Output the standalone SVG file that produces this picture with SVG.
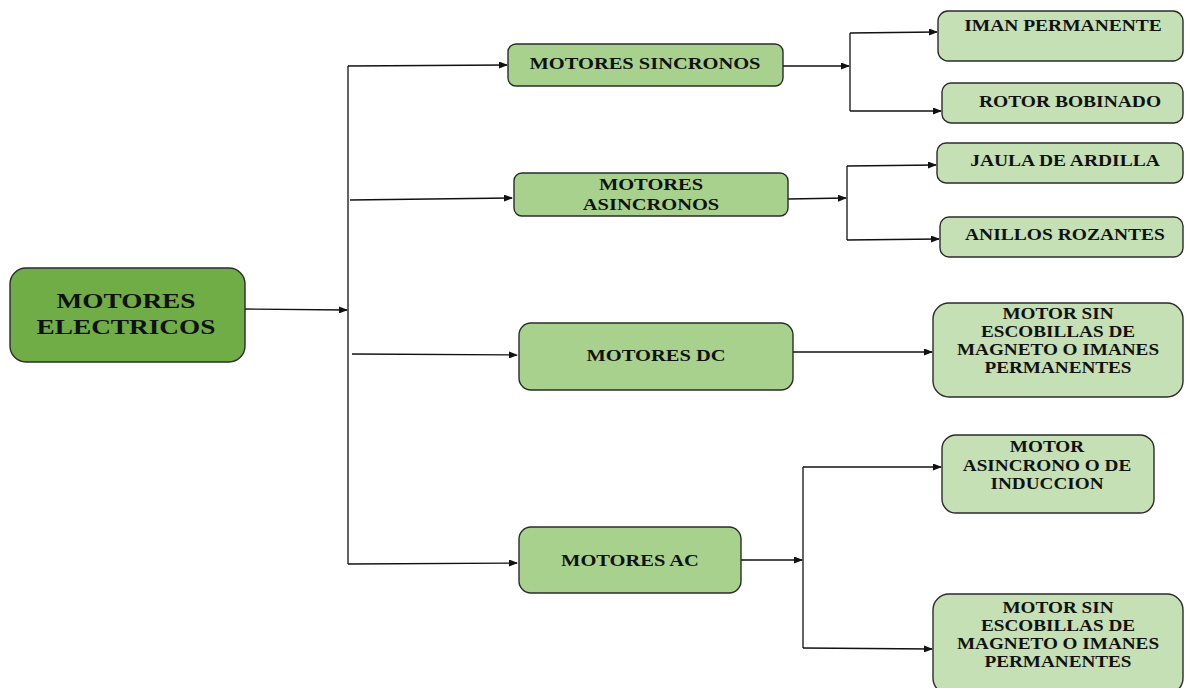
<svg xmlns="http://www.w3.org/2000/svg" width="1185" height="688" viewBox="0 0 1185 688">
<style>
.box{stroke:#2b2b2b;stroke-width:1.4}
.l1{fill:#70ad47}
.l2{fill:#a9d18e}
.l3{fill:#c5e0b4}
.t{font-family:"Liberation Serif","Times New Roman",serif;font-weight:bold;font-size:16px;fill:#111;text-anchor:middle}
.tr{font-size:21px}
.c{fill:none;stroke:#111;stroke-width:1.3}
</style>
<defs>
<marker id="ah" markerWidth="9" markerHeight="7" refX="8" refY="3.5" orient="auto" markerUnits="userSpaceOnUse">
<path d="M0,0 L9,3.5 L0,7 z" fill="#111"/>
</marker>
</defs>
<g id="connectors">
<path class="c" d="M245,309 L347,310" marker-end="url(#ah)"/>
<path class="c" d="M348,66 L348,564"/>
<path class="c" d="M348,66 L507,65" marker-end="url(#ah)"/>
<path class="c" d="M350,200 L512,198" marker-end="url(#ah)"/>
<path class="c" d="M352,354 L517,355" marker-end="url(#ah)"/>
<path class="c" d="M348,564 L517,563" marker-end="url(#ah)"/>
<path class="c" d="M783,66 L849,66" marker-end="url(#ah)"/>
<path class="c" d="M850,33 L850,111"/>
<path class="c" d="M850,33 L937,32" marker-end="url(#ah)"/>
<path class="c" d="M850,111 L941,111" marker-end="url(#ah)"/>
<path class="c" d="M788,199 L846,198" marker-end="url(#ah)"/>
<path class="c" d="M847,166 L847,240"/>
<path class="c" d="M847,166 L936,165" marker-end="url(#ah)"/>
<path class="c" d="M847,240 L939,239" marker-end="url(#ah)"/>
<path class="c" d="M793,352 L932,352" marker-end="url(#ah)"/>
<path class="c" d="M741,560 L802,560" marker-end="url(#ah)"/>
<path class="c" d="M803,467 L803,648"/>
<path class="c" d="M803,467 L941,467" marker-end="url(#ah)"/>
<path class="c" d="M803,648 L932,649" marker-end="url(#ah)"/>
</g>
<g id="n-root">
<rect class="box l1" x="10" y="268" width="235" height="94" rx="16"/>
<text class="t tr" transform="translate(126 308) scale(1.3 1)">MOTORES</text>
<text class="t tr" transform="translate(126 334) scale(1.3 1)">ELECTRICOS</text>
</g>
<g id="n-sincronos">
<rect class="box l2" x="508" y="44" width="275" height="42" rx="8"/>
<text class="t" transform="translate(645 69) scale(1.28 1)">MOTORES SINCRONOS</text>
</g>
<g id="n-asincronos">
<rect class="box l2" x="514" y="173" width="274" height="43" rx="8"/>
<text class="t" transform="translate(651 190) scale(1.28 1)">MOTORES</text>
<text class="t" transform="translate(651 210) scale(1.28 1)">ASINCRONOS</text>
</g>
<g id="n-dc">
<rect class="box l2" x="519" y="323" width="274" height="67" rx="12"/>
<text class="t" transform="translate(656 361) scale(1.28 1)">MOTORES DC</text>
</g>
<g id="n-ac">
<rect class="box l2" x="519" y="527" width="222" height="66" rx="12"/>
<text class="t" transform="translate(630 566) scale(1.28 1)">MOTORES AC</text>
</g>
<g id="n-iman">
<rect class="box l3" x="938" y="11" width="245" height="50" rx="10"/>
<text class="t" transform="translate(1063 31) scale(1.22 1)">IMAN PERMANENTE</text>
</g>
<g id="n-rotor">
<rect class="box l3" x="942" y="83" width="241" height="40" rx="9"/>
<text class="t" transform="translate(1070 107) scale(1.22 1)">ROTOR BOBINADO</text>
</g>
<g id="n-jaula">
<rect class="box l3" x="937" y="143" width="246" height="40" rx="9"/>
<text class="t" transform="translate(1065 166) scale(1.22 1)">JAULA DE ARDILLA</text>
</g>
<g id="n-anillos">
<rect class="box l3" x="940" y="217" width="243" height="40" rx="9"/>
<text class="t" transform="translate(1065 240) scale(1.22 1)">ANILLOS ROZANTES</text>
</g>
<g id="n-dc-brushless">
<rect class="box l3" x="933" y="303" width="250" height="94" rx="16"/>
<text class="t" transform="translate(1058 319) scale(1.2 1)">MOTOR SIN</text>
<text class="t" transform="translate(1058 337) scale(1.2 1)">ESCOBILLAS DE</text>
<text class="t" transform="translate(1058 355) scale(1.2 1)">MAGNETO O IMANES</text>
<text class="t" transform="translate(1058 373) scale(1.2 1)">PERMANENTES</text>
</g>
<g id="n-induccion">
<rect class="box l3" x="942" y="435" width="212" height="78" rx="14"/>
<text class="t" transform="translate(1047 452) scale(1.2 1)">MOTOR</text>
<text class="t" transform="translate(1047 471) scale(1.2 1)">ASINCRONO O DE</text>
<text class="t" transform="translate(1047 489) scale(1.2 1)">INDUCCION</text>
</g>
<g id="n-ac-brushless">
<rect class="box l3" x="933" y="594" width="250" height="100" rx="16"/>
<text class="t" transform="translate(1058 613) scale(1.2 1)">MOTOR SIN</text>
<text class="t" transform="translate(1058 631) scale(1.2 1)">ESCOBILLAS DE</text>
<text class="t" transform="translate(1058 649) scale(1.2 1)">MAGNETO O IMANES</text>
<text class="t" transform="translate(1058 667) scale(1.2 1)">PERMANENTES</text>
</g>
</svg>
